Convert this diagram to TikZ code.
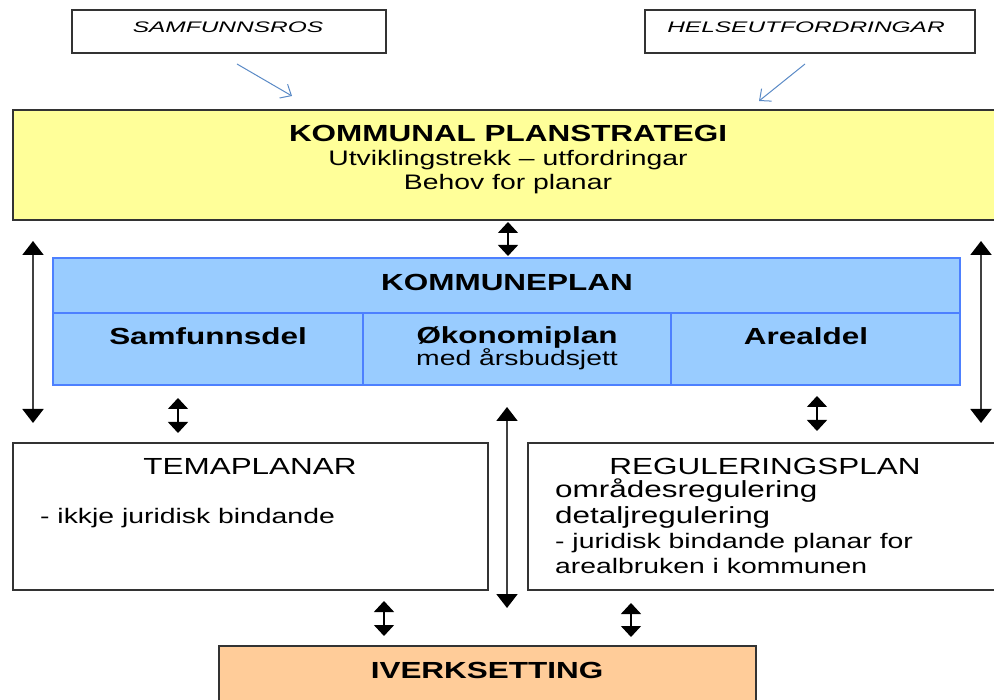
\documentclass[tikz,border=0pt]{standalone}
\usepackage{fontspec}
\setmainfont[FakeStretch=1.35]{Liberation Sans}
\newfontfamily\topfont[FakeStretch=1.6]{Liberation Sans}
\usetikzlibrary{arrows.meta}
\definecolor{boxyellow}{HTML}{FFFF99}
\definecolor{boxblue}{HTML}{99CCFF}
\definecolor{lineblue}{HTML}{4D80FF}
\definecolor{boxorange}{HTML}{FFCC99}
\definecolor{arrowblue}{HTML}{5A8AC6}
\definecolor{darkline}{HTML}{333333}
\begin{document}
\begin{tikzpicture}[x=1pt,y=-1pt,
  boxbase/.style={rectangle, inner sep=0pt, outer sep=0pt, anchor=north west},
  topbox/.style={boxbase, draw=darkline, line width=1.5pt, fill=white},
  mainbox/.style={boxbase, draw=darkline, line width=2.5pt},
  bluecell/.style={boxbase, draw=lineblue, line width=2pt, fill=boxblue},
  whitebox/.style={boxbase, draw=darkline, line width=2.2pt, fill=white},
  txt/.style={inner sep=0pt, anchor=base},
  txtl/.style={inner sep=0pt, anchor=base west},
  bigb/.style={font=\fontsize{23.3}{28}\selectfont\bfseries},
  bigr/.style={font=\fontsize{23.3}{28}\selectfont},
  medr/.style={font=\fontsize{21}{25}\selectfont},
  topt/.style={font=\topfont\itshape\fontsize{15.3}{18}\selectfont},
  feed/.style={draw=arrowblue, line width=1pt, -{Straight Barb[length=9pt,width=16pt]}},
  longarrow/.style={draw=black!75, line width=2pt,
     {Triangle[width=21pt,length=14pt,color=black]}-{Triangle[width=21pt,length=14pt,color=black]}},
  shortarrow/.style={draw=black, line width=1.5pt,
     {Triangle[width=20pt,length=11pt]}-{Triangle[width=20pt,length=11pt]}}
]
\useasboundingbox (0,0) rectangle (994,700);
\clip (0,0) rectangle (994,700);

% top input boxes
\node[topbox, minimum width=314pt, minimum height=43pt] (ros) at (72,10) {};
\node[topbox, minimum width=330pt, minimum height=43pt] (helse) at (645,10) {};
\node[txt, topt] (rost) at (228,33) {SAMFUNNSROS};
\node[txt, topt] (helset) at (806,33) {HELSEUTFORDRINGAR};

% planstrategi
\node[mainbox, fill=boxyellow, minimum width=1000pt, minimum height=110pt] (ps) at (13,110) {};
\node[txt, bigb] (pst1) at (508,141.5) {KOMMUNAL PLANSTRATEGI};
\node[txt, medr] (pst2) at (508,165.5) {Utviklingstrekk – utfordringar};
\node[txt, medr] (pst3) at (508,189.5) {Behov for planar};

% kommuneplan
\node[bluecell, minimum width=907pt, minimum height=55pt] (kph) at (53,258) {};
\node[bluecell, minimum width=310pt, minimum height=72pt] (kps) at (53,313) {};
\node[bluecell, minimum width=308pt, minimum height=72pt] (kpo) at (363,313) {};
\node[bluecell, minimum width=289pt, minimum height=72pt] (kpa) at (671,313) {};
\node[txt, bigb] (kpht) at (507,291) {KOMMUNEPLAN};
\node[txt, bigb] (kpst) at (208,345) {Samfunnsdel};
\node[txt, bigb] (kpot1) at (517,344) {Økonomiplan};
\node[txt, medr] (kpot2) at (517,366) {med årsbudsjett};
\node[txt, bigb] (kpat) at (806,345) {Arealdel};

% temaplanar
\node[whitebox, minimum width=475pt, minimum height=147pt] (tp) at (13,443) {};
\node[txt, bigr] (tpt1) at (250,475) {TEMAPLANAR};
\node[txtl, medr] (tpt2) at (40,524) {- ikkje juridisk bindande};

% reguleringsplan
\node[whitebox, minimum width=480pt, minimum height=147pt] (rp) at (528,443) {};
\node[txt, bigr] (rpt1) at (765,475) {REGULERINGSPLAN};
\node[txtl, bigr] (rpt2) at (555,498) {områdesregulering};
\node[txtl, bigr] (rpt3) at (555,523) {detaljregulering};
\node[txtl, medr] (rpt4) at (555,548) {- juridisk bindande planar for};
\node[txtl, medr] (rpt5) at (555,573) {arealbruken i kommunen};

% iverksetting
\node[whitebox, fill=boxorange, minimum width=537pt, minimum height=80pt] (iv) at (219,646) {};
\node[txt, bigb] (ivt) at (487,678) {IVERKSETTING};

% connector end points
\coordinate (rosA) at (237,64);
\coordinate (rosB) at (292,96);
\coordinate (helA) at (805,64);
\coordinate (helB) at (759,101);
\coordinate (psA) at (508,222);
\coordinate (psB) at (508,256);
\coordinate (lA) at (33,241);
\coordinate (lB) at (33,423);
\coordinate (rA) at (981,241);
\coordinate (rB) at (981,423);
\coordinate (tA) at (178,398);
\coordinate (tB) at (178,433);
\coordinate (gA) at (817,396);
\coordinate (gB) at (817,431);
\coordinate (mA) at (507,407);
\coordinate (mB) at (507,608);
\coordinate (ivA) at (384,601);
\coordinate (ivB) at (384,636);
\coordinate (ivC) at (631,603);
\coordinate (ivD) at (631,637);

% connectors
\draw[feed] (rosA) -- (rosB);
\draw[feed] (helA) -- (helB);
\draw[shortarrow] (psA) -- (psB);
\draw[longarrow] (lA) -- (lB);
\draw[longarrow] (rA) -- (rB);
\draw[shortarrow] (tA) -- (tB);
\draw[shortarrow] (gA) -- (gB);
\draw[longarrow] (mA) -- (mB);
\draw[shortarrow] (ivA) -- (ivB);
\draw[shortarrow] (ivC) -- (ivD);
\end{tikzpicture}
\end{document}
